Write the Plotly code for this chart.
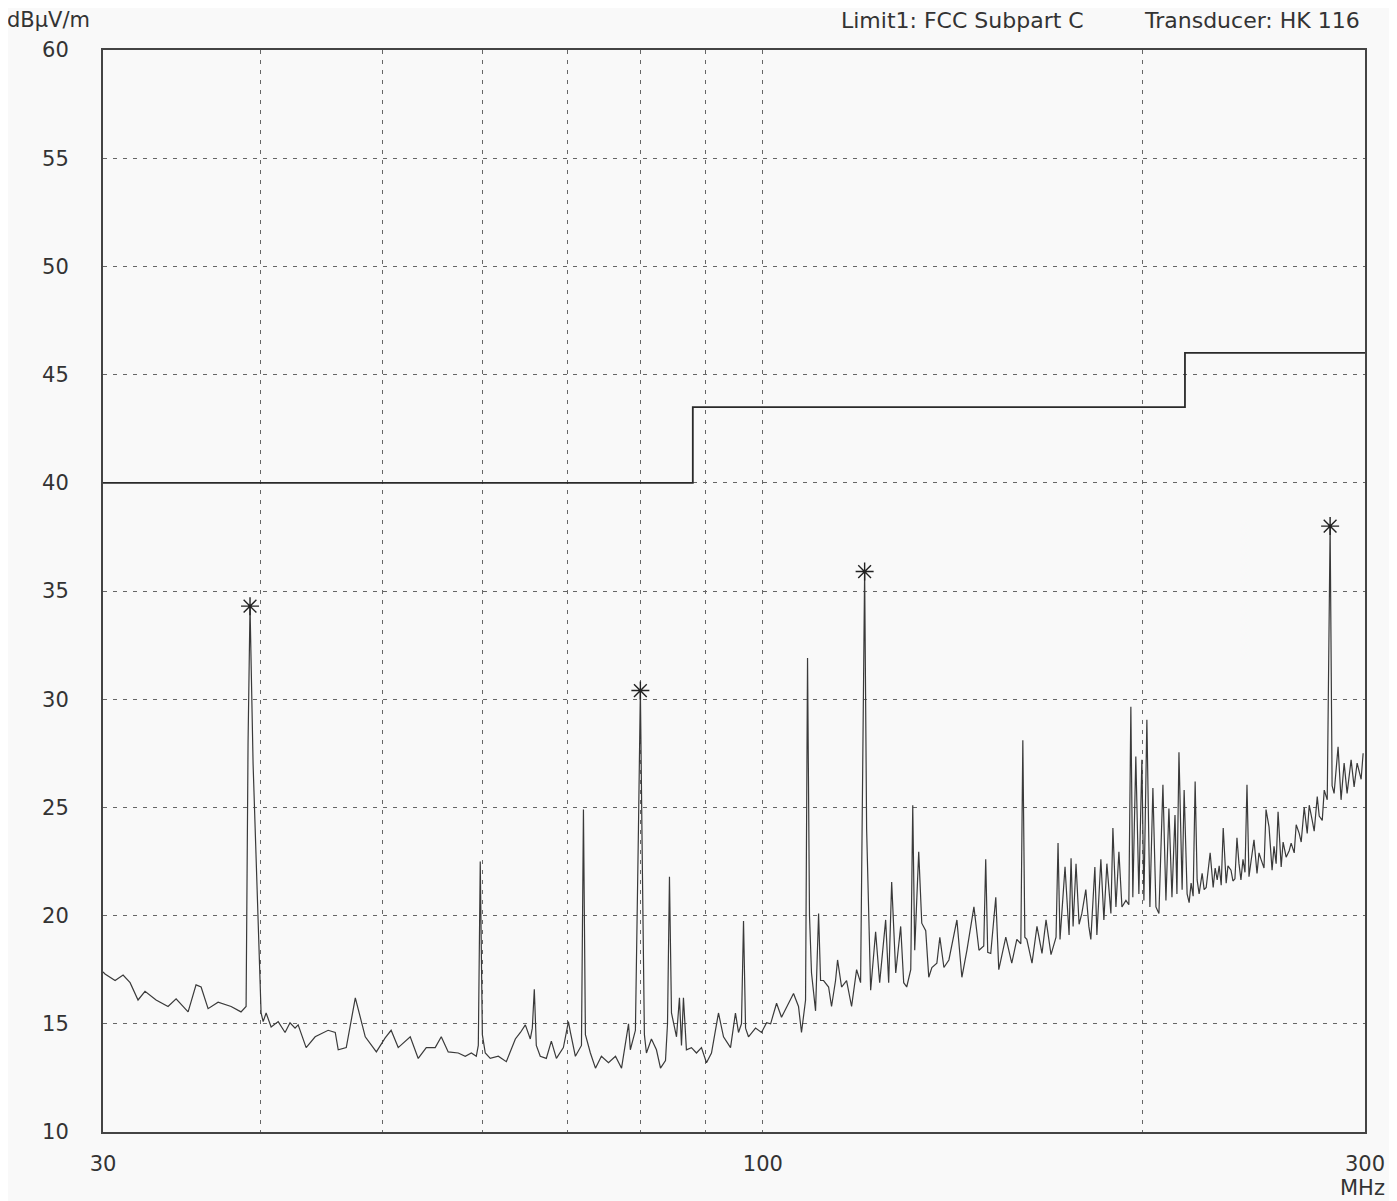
import plotly.graph_objects as go

freq_mhz = [
    30.00, 30.11, 30.67, 31.12, 31.52, 31.98, 32.39, 33.05, 33.78, 34.28, 35.04, 35.55, 35.88, 36.34,
    37.01, 37.90, 38.59, 38.95, 39.09, 39.23, 39.45, 39.67, 39.88, 40.03, 40.18, 40.40, 40.77, 41.30,
    41.82, 42.20, 42.59, 42.83, 43.46, 44.18, 45.24, 45.83, 46.08, 46.76, 47.54, 47.99, 48.41, 49.40,
    50.20, 50.75, 51.41, 52.55, 53.32, 54.11,
    55.00, 55.61, 56.32, 57.36, 58.10, 58.75, 59.28, 59.50, 59.71, 59.94, 60.26, 60.81, 61.71, 62.62,
    63.66, 64.25, 64.83, 65.42, 65.66, 65.90, 66.14, 66.62, 67.36, 67.98, 68.61, 69.49, 70.13, 70.39,
    71.03, 71.82, 72.08, 72.34, 73.00, 73.68, 74.48, 75.45, 76.42, 77.27, 78.26, 78.52, 79.25, 79.69,
    79.97, 80.27, 80.56, 80.86, 81.60, 82.35, 82.96, 83.72, 84.03, 84.33, 84.64, 85.42, 85.88, 86.20,
    86.51, 86.98, 87.78, 88.59, 89.40, 90.22, 91.05, 92.22, 93.07, 94.27, 95.12, 95.65, 96.17, 96.53,
    96.89, 97.41, 98.67, 99.75,
    100.68, 101.42, 102.53, 103.46, 104.79, 105.75, 106.72, 107.30, 108.10, 108.49, 108.88, 109.28,
    110.09, 110.70, 111.10, 111.71, 112.74, 113.35, 114.18, 114.60, 115.44, 116.50, 117.57, 118.65,
    119.52, 119.96, 120.40, 120.84, 121.73, 122.84, 123.75, 125.11, 125.80, 126.49, 127.43, 128.59,
    129.30, 130.01, 130.97, 131.45, 131.92, 132.89, 133.63, 134.60, 135.35, 136.12, 137.36, 138.11,
    139.14, 140.41, 142.48, 143.78, 145.11, 146.97, 148.33, 149.63, 150.17, 150.72, 151.55, 152.95,
    153.79, 155.77, 157.48, 158.94, 160.10, 160.69, 161.28, 161.86, 163.40, 164.89, 166.41, 167.64,
    169.17, 170.73, 171.35, 171.97, 173.55, 174.83, 175.47, 176.12, 177.07, 178.06,
    178.96, 180.26, 181.26, 181.92, 183.26, 183.93, 185.28, 186.30, 187.32, 188.70, 189.39, 190.44,
    191.48, 192.54, 193.94, 194.98, 195.70, 196.40, 197.48, 198.58, 199.67, 200.41, 201.50, 202.62,
    203.73, 204.86, 205.98, 207.49, 208.63, 209.77, 210.94, 212.11, 212.86, 213.65, 214.89, 215.68,
    216.85, 217.65, 218.44, 219.25, 220.05, 220.85, 221.66, 222.88, 223.70, 224.53, 225.33, 226.16,
    227.41, 228.24, 229.09, 229.92, 230.77, 231.62, 232.87, 233.63, 234.92, 235.76, 236.62, 237.50,
    238.37, 239.23, 240.12, 241.00, 241.88, 242.77, 243.66, 245.00, 246.35, 247.25, 248.16, 249.51,
    250.44, 251.81, 253.21, 254.11, 255.10, 256.00, 257.46, 258.37, 259.80, 261.24, 262.18, 263.65,
    264.61, 266.05, 267.03, 268.50, 269.98, 270.97, 272.45, 273.44, 274.97, 275.96, 277.49, 278.49,
    280.02, 281.50, 282.52, 283.55, 285.62, 287.18, 288.79, 290.36, 292.49, 294.10, 295.72, 297.89,
    298.98,
]
level_dbuv = [
    17.4, 17.3, 17.0, 17.25, 16.9, 16.1, 16.5, 16.1, 15.8, 16.15, 15.55, 16.8, 16.7, 15.7,
    16.0, 15.8, 15.55, 15.8, 28.0, 34.3, 27.0, 22.5, 19.0, 15.5, 15.1, 15.5, 14.85, 15.1,
    14.6, 15.05, 14.8, 14.95, 13.9, 14.4, 14.7, 14.6, 13.8, 13.9, 16.2, 15.2, 14.4, 13.7,
    14.35, 14.7, 13.9, 14.4, 13.4, 13.9,
    13.9, 14.4, 13.7, 13.65, 13.5, 13.65, 13.5, 14.0, 22.5, 14.5, 13.65, 13.4, 13.5, 13.25,
    14.3, 14.6, 14.95, 14.3, 14.8, 16.6, 14.0, 13.5, 13.4, 14.2, 13.4, 13.9, 15.1, 14.6,
    13.5, 14.0, 24.9, 14.5, 13.65, 12.95, 13.5, 13.2, 13.5, 12.95, 15.0, 13.8, 14.7, 24.0,
    30.4, 22.0, 14.5, 13.65, 14.3, 13.8, 12.95, 13.3, 15.0, 21.8, 15.5, 14.4, 16.2, 14.0,
    16.2, 13.8, 13.9, 13.65, 13.9, 13.2, 13.65, 15.5, 14.4, 13.9, 15.5, 14.6, 15.0, 19.75,
    14.8, 14.4, 14.8, 14.6,
    15.05, 15.0, 15.95, 15.3, 15.95, 16.4, 15.8, 14.6, 16.1, 31.9, 20.0, 17.35,
    15.6, 20.1, 17.0, 17.0, 16.7, 15.8, 17.0, 17.95, 16.7, 17.0, 15.8, 17.5,
    16.9, 28.0, 35.9, 24.0, 16.55, 19.25, 16.9, 19.8, 16.9, 21.55, 17.35, 19.5,
    16.9, 16.7, 17.5, 25.1, 18.4, 22.95, 19.65, 19.3, 17.15, 17.6, 17.8, 19.0,
    17.6, 17.95, 19.8, 17.15, 18.4, 20.4, 18.4, 18.6, 22.6, 18.3, 18.25, 20.85,
    17.5, 19.0, 17.8, 18.9, 18.7, 28.1, 19.0, 18.9, 17.8, 19.5, 18.25, 19.8,
    18.2, 19.0, 23.35, 18.9, 22.25, 19.1, 22.65, 19.5, 22.4, 19.6,
    20.1, 21.2, 19.5, 18.9, 22.25, 19.1, 22.6, 19.8, 22.4, 20.1, 24.05, 20.4,
    22.95, 20.4, 20.7, 20.5, 29.65, 20.85, 27.35, 21.0, 27.2, 20.7, 29.05, 20.4,
    25.9, 20.4, 20.1, 26.05, 20.7, 24.95, 20.85, 24.65, 21.0, 27.55, 21.2, 25.8,
    21.0, 20.6, 21.5, 20.9, 26.2, 21.65, 21.0, 21.95, 21.2, 21.3, 22.0, 22.9,
    21.3, 22.2, 21.65, 22.3, 21.4, 24.05, 21.5, 22.3, 22.1, 21.6, 21.7, 23.6,
    22.4, 21.65, 22.6, 22.0, 26.05, 21.8, 22.5, 23.5, 21.95, 22.9, 22.6, 22.2,
    24.9, 24.1, 22.1, 23.2, 22.4, 24.8, 22.25, 23.4, 22.7, 23.0, 23.35, 22.9,
    24.2, 23.8, 23.4, 25.0, 23.8, 25.1, 24.4, 23.9, 25.5, 24.6, 24.4, 25.8,
    25.35, 38.0, 26.0, 25.65, 27.8, 25.35, 27.05, 25.65, 27.2, 25.95, 27.05, 26.3,
    27.5,
]

# ---- Marked peaks (asterisks) ----
peak_freq_mhz = [39.23, 79.97, 120.40, 281.50]
peak_level_dbuv = [34.3, 30.4, 35.9, 38.0]

# ---- Limit line: FCC Subpart C (step) ----
limit_freq_mhz = [30, 88, 88, 216, 216, 300]
limit_level_dbuv = [40.0, 40.0, 43.5, 43.5, 46.0, 46.0]

# ---- Axis ticks ----
x_tick_vals = [30, 100, 300]
x_tick_text = ["30", "100", "300"]
x_grid_vals = [40, 50, 60, 70, 80, 90, 200]
y_tick_vals = [10, 15, 20, 25, 30, 35, 40, 45, 50, 55, 60]

INK = "#333333"
GRID = "#666666"
GRID_DASH = "4px,6px"
BG = "#f9f9f9"
FONT = "DejaVu Sans"

fig = go.Figure()
fig.add_trace(go.Scatter(
    x=limit_freq_mhz, y=limit_level_dbuv, mode="lines",
    line=dict(color="#2a2a2a", width=1.8), hoverinfo="skip", showlegend=False))
fig.add_trace(go.Scatter(
    x=freq_mhz, y=level_dbuv, mode="lines",
    line=dict(color="#3a3a3a", width=1.2), showlegend=False))
fig.add_trace(go.Scatter(
    x=peak_freq_mhz, y=peak_level_dbuv, mode="markers",
    marker=dict(symbol="asterisk", size=15, line=dict(color="#222222", width=1.4)),
    showlegend=False))

# page body has an 8px default margin, so the figure is offset by (8, 8)
fig.update_layout(
    width=1389, height=1193,
    margin=dict(l=95, r=32, t=42, b=69),
    paper_bgcolor=BG, plot_bgcolor=BG,
    font=dict(family=FONT, size=21, color=INK),
    showlegend=False,
)
fig.update_xaxes(
    type="log", range=[1.47712, 2.47712],
    tickvals=x_tick_vals, ticktext=x_tick_text,
    ticks="outside", ticklen=0, ticklabelstandoff=12,
    showgrid=True, gridcolor=GRID, griddash=GRID_DASH, gridwidth=1.3,
    minor=dict(tickvals=x_grid_vals, showgrid=True, gridcolor=GRID, griddash=GRID_DASH,
               gridwidth=1.3, ticklen=0),
    showline=True, linecolor="#444444", linewidth=2, mirror=True,
    zeroline=False, tickfont=dict(size=21, color=INK),
)
fig.update_yaxes(
    range=[10, 60], tickvals=y_tick_vals,
    ticks="outside", ticklen=0, ticklabelstandoff=28,
    showgrid=True, gridcolor=GRID, griddash=GRID_DASH, gridwidth=1.3,
    showline=True, linecolor="#444444", linewidth=2, mirror=True,
    zeroline=False, tickfont=dict(size=21, color=INK),
)

fig.add_annotation(text="dBµV/m", xref="paper", yref="paper", x=-0.0777, y=1.0277,
                   xanchor="left", yanchor="middle", showarrow=False, font=dict(size=21, color=INK))
fig.add_annotation(text="Limit1: FCC Subpart C", xref="paper", yref="paper", x=0.779, y=1.0277,
                   xanchor="right", yanchor="middle", showarrow=False, font=dict(size=22, color=INK))
fig.add_annotation(text="Transducer: HK 116", xref="paper", yref="paper", x=0.9976, y=1.0277,
                   xanchor="right", yanchor="middle", showarrow=False, font=dict(size=22, color=INK))
fig.add_annotation(text="MHz", xref="paper", yref="paper", x=0.9984, y=-0.0518,
                   xanchor="center", yanchor="middle", showarrow=False, font=dict(size=21, color=INK))

fig.write_html("out.html")
